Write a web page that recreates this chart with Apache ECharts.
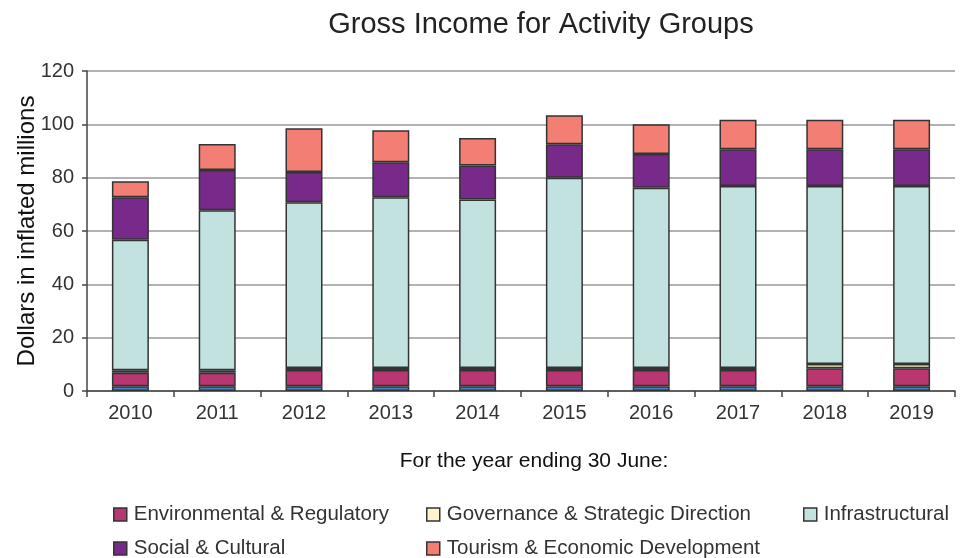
<!DOCTYPE html>
<html>
<head>
<meta charset="utf-8">
<script src="https://cdn.jsdelivr.net/npm/echarts@6/dist/echarts.min.js"></script>
<style>
  html, body { margin: 0; padding: 0; background: #ffffff; }
  #chart { width: 964px; height: 558px; }
</style>
</head>
<body>
<div id="chart"></div>
<script>
// Financial years ending 30 June
const years = ['2010', '2011', '2012', '2013', '2014', '2015', '2016', '2017', '2018', '2019'];

// Gross income by activity group, $ millions (inflated)
const otherIncome      = [1.8, 1.8, 1.8, 1.8, 1.8, 1.8, 1.8, 1.8, 1.8, 1.8];
const environmental    = [5.0, 5.0, 6.1, 6.1, 6.1, 6.1, 6.1, 6.1, 6.7, 6.7];
const governance       = [1.0, 1.0, 0.7, 0.7, 0.7, 0.7, 0.7, 0.7, 1.6, 1.6];
const infrastructural  = [48.9, 60.0, 62.2, 64.1, 63.2, 71.4, 67.6, 68.3, 66.8, 66.8];
const socialCultural   = [16.0, 15.1, 11.3, 13.1, 12.8, 12.5, 12.7, 13.8, 13.8, 13.8];
const tourism          = [6.0, 9.7, 16.4, 12.0, 10.3, 10.9, 11.1, 11.0, 11.0, 11.0];

const yTicks = [0, 20, 40, 60, 80, 100, 120];

const FONT = '"Liberation Sans", Arial, sans-serif';
const TEXT = '#333333';
const EDGE = '#333333';

const groups = [
  { name: 'Other', data: otherIncome, color: '#4a7fc1' },
  { name: 'Environmental & Regulatory', data: environmental, color: '#b83771' },
  { name: 'Governance & Strategic Direction', data: governance, color: '#fdf5c9' },
  { name: 'Infrastructural', data: infrastructural, color: '#c2e2e0' },
  { name: 'Social & Cultural', data: socialCultural, color: '#782a8a' },
  { name: 'Tourism & Economic Development', data: tourism, color: '#f37f74' }
];

// Legend entries laid out in two rows, three columns
const legendSpots = [
  { name: 'Environmental & Regulatory', left: 113, top: 504 },
  { name: 'Governance & Strategic Direction', left: 426, top: 504 },
  { name: 'Infrastructural', left: 803, top: 504 },
  { name: 'Social & Cultural', left: 113, top: 538 },
  { name: 'Tourism & Economic Development', left: 426, top: 538 }
];

const chart = echarts.init(document.getElementById('chart'), null, { renderer: 'canvas' });

chart.setOption({
  backgroundColor: '#ffffff',
  animation: false,
  textStyle: { fontFamily: FONT },
  title: {
    text: 'Gross Income for Activity Groups',
    left: 536,
    textAlign: 'center',
    top: 5,
    textStyle: { fontFamily: FONT, fontSize: 29, fontWeight: 'normal', color: '#222222' }
  },
  legend: legendSpots.map(s => ({
    data: [s.name],
    left: s.left,
    top: s.top,
    padding: 0,
    itemWidth: 13,
    itemHeight: 13,
    itemGap: 10,
    selectedMode: false,
    icon: 'rect',
    itemStyle: { borderColor: EDGE, borderWidth: 1.5 },
    textStyle: { fontFamily: FONT, fontSize: 20.5, color: TEXT, padding: [0, 0, 0, 2] }
  })),
  grid: { left: 87, right: 9, top: 71, bottom: 167, containLabel: false, outerBoundsMode: 'none' },
  xAxis: {
    type: 'category',
    data: years,
    name: 'For the year ending 30 June:',
    nameLocation: 'middle',
    nameGap: 60,
    nameMoveOverlap: false,
    nameTextStyle: { fontFamily: FONT, fontSize: 21, color: '#111111', padding: [0, 0, 0, 26] },
    axisLine: { lineStyle: { color: '#444444', width: 1.5 } },
    axisTick: { show: true, length: 6, lineStyle: { color: '#444444', width: 1.5 } },
    axisLabel: { fontFamily: FONT, fontSize: 20, color: TEXT, margin: 12 },
    splitLine: { show: false }
  },
  yAxis: {
    type: 'value',
    min: yTicks[0],
    max: yTicks[yTicks.length - 1],
    interval: yTicks[1] - yTicks[0],
    name: 'Dollars in inflated millions',
    nameLocation: 'middle',
    nameGap: 48,
    nameMoveOverlap: false,
    nameTextStyle: { fontFamily: FONT, fontSize: 24, color: '#111111' },
    axisLine: { show: true, lineStyle: { color: '#444444', width: 1.5 } },
    axisTick: { show: true, length: 5, lineStyle: { color: '#444444', width: 1.5 } },
    axisLabel: { fontFamily: FONT, fontSize: 20, color: TEXT, margin: 13 },
    splitLine: { show: true, lineStyle: { color: '#999999', width: 1.5 } }
  },
  series: groups.map(g => ({
    name: g.name,
    type: 'bar',
    stack: 'income',
    data: g.data,
    barWidth: 37,
    itemStyle: { color: g.color, borderColor: EDGE, borderWidth: 1.5 },
    emphasis: { disabled: true }
  }))
});
</script>
</body>
</html>
